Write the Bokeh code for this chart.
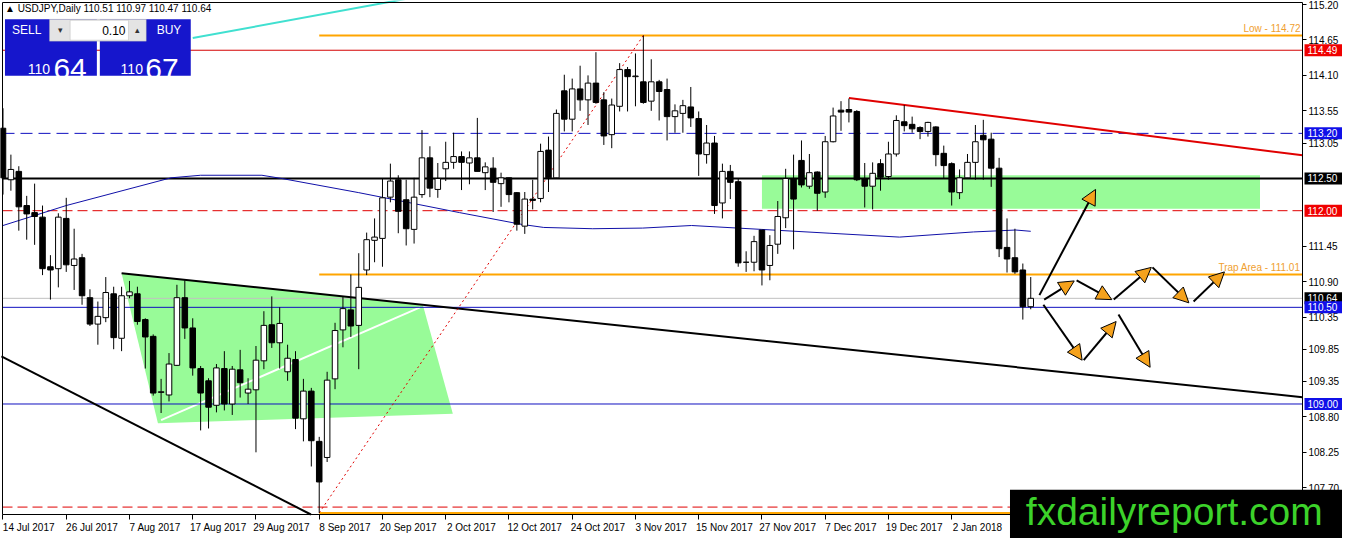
from bokeh.plotting import figure
from bokeh.models import (Range1d, FixedTicker, NumeralTickFormatter, Label, LinearAxis,
                          BoxAnnotation, Arrow, NormalHead, ColumnDataSource)
from bokeh.embed import file_html
from bokeh.resources import INLINE

# --- daily candles, bar 0 = 14 Jul 2017 ... bar 130 = 16 Jan 2018 ---
opens = [113.28, 112.48, 112.61, 112.08, 111.97, 111.90, 111.13, 111.10, 111.88, 111.15,
         111.27, 110.65, 110.24, 110.34, 110.71, 110.02, 110.68, 110.71, 110.31, 110.05,
         109.18, 109.14, 109.60, 110.65, 110.18, 109.55, 109.36, 108.98, 109.55, 109.00,
         109.53, 109.17, 109.22, 109.67, 110.23, 109.95, 109.50, 109.69, 108.77, 109.20,
         108.42, 108.17, 109.39, 110.15, 110.46, 110.22, 111.08, 111.54, 111.57, 112.21,
         112.48, 112.17, 111.71, 112.25, 112.82, 112.33, 112.65, 112.75, 112.84, 112.74,
         112.82, 112.59, 112.66, 112.42, 112.51, 112.28, 111.76, 112.18, 112.19, 112.94,
         112.51, 113.86, 113.42, 113.89, 113.72, 113.98, 113.72, 113.18, 113.62, 114.19,
         114.08, 114.00, 113.70, 114.00, 113.88, 113.46, 113.51, 113.61, 113.43, 112.87,
         113.05, 112.12, 112.61, 112.45, 111.20, 111.20, 111.70, 111.15, 111.48, 111.89,
         112.50, 112.78, 112.38, 112.60, 112.29, 113.07, 113.56, 113.57, 113.54, 112.50,
         112.38, 112.73, 112.53, 112.88, 113.38, 113.34, 113.29, 113.23, 113.30, 112.89,
         112.73, 112.28, 112.51, 112.75, 113.17, 113.11, 112.66, 111.43, 111.27, 111.08,
         110.51]
highs = [113.59, 112.87, 112.69, 112.23, 112.42, 112.08, 111.31, 111.96, 112.20, 111.72,
         111.33, 110.78, 110.59, 110.97, 110.82, 110.82, 110.91, 110.82, 110.33, 110.08,
         109.39, 109.79, 110.85, 110.92, 110.33, 109.59, 109.40, 109.62, 109.82, 109.59,
         109.84, 109.40, 109.90, 110.44, 110.67, 110.50, 109.92, 109.82, 109.39, 109.25,
         108.49, 109.50, 110.26, 110.66, 111.01, 111.34, 111.66, 111.88, 112.50, 112.73,
         112.55, 112.48, 112.51, 113.25, 113.00, 112.74, 113.07, 113.21, 112.92, 112.92,
         113.44, 112.75, 112.83, 112.59, 112.51, 112.29, 112.29, 112.48, 113.04, 113.15,
         113.57, 114.11, 114.05, 114.25, 114.10, 114.46, 113.84, 113.74, 114.29, 114.23,
         114.44, 114.72, 114.35, 114.03, 114.05, 113.65, 113.72, 113.92, 113.54, 113.33,
         113.16, 112.73, 112.71, 112.50, 111.37, 111.61, 111.70, 111.62, 112.15, 112.65,
         112.87, 113.09, 112.88, 112.61, 113.16, 113.60, 113.70, 113.74, 113.56, 112.74,
         112.75, 112.80, 113.07, 113.48, 113.64, 113.46, 113.31, 113.38, 113.31, 113.01,
         112.75, 112.64, 112.88, 113.33, 113.41, 113.21, 112.82, 111.88, 111.72, 111.18,
         110.97]
lows = [112.25, 112.31, 111.69, 111.55, 111.47, 111.00, 110.62, 110.81, 111.05, 110.77,
        110.54, 110.21, 109.92, 110.27, 109.85, 109.82, 110.64, 110.23, 109.55, 109.13,
        108.86, 109.04, 109.59, 110.01, 109.44, 108.59, 108.62, 108.87, 108.90, 108.83,
        109.10, 109.00, 108.25, 109.54, 109.87, 109.55, 109.36, 108.61, 108.42, 108.03,
        107.31, 108.10, 109.23, 109.88, 110.04, 109.54, 111.00, 111.20, 111.13, 112.13,
        111.65, 111.46, 111.49, 112.20, 112.21, 112.20, 112.46, 112.65, 112.32, 112.41,
        112.61, 112.32, 111.98, 112.06, 112.13, 111.69, 111.64, 112.02, 112.13, 112.29,
        112.51, 113.23, 113.23, 113.55, 113.33, 113.66, 113.02, 112.97, 113.54, 113.54,
        113.62, 113.66, 113.55, 113.40, 113.09, 113.21, 113.21, 113.30, 112.54, 112.73,
        111.95, 111.88, 112.18, 111.13, 111.05, 111.06, 110.84, 110.92, 111.33, 111.73,
        111.40, 112.36, 112.34, 112.00, 112.20, 113.06, 113.24, 113.37, 112.46, 112.05,
        112.02, 112.31, 112.48, 112.84, 113.23, 113.21, 113.11, 113.15, 112.69, 112.50,
        112.08, 112.18, 112.50, 112.48, 112.48, 112.37, 111.28, 111.04, 111.02, 110.31,
        110.47]
closes = [112.51, 112.64, 112.06, 111.95, 111.91, 111.10, 111.08, 111.90, 111.16, 111.25,
          110.68, 110.24, 110.36, 110.73, 110.03, 110.68, 110.74, 110.28, 110.04, 109.17,
          109.19, 109.62, 110.65, 110.18, 109.56, 109.17, 108.95, 109.56, 109.00, 109.54,
          109.33, 109.23, 109.68, 110.22, 109.95, 110.25, 109.71, 108.78, 109.20, 108.43,
          107.79, 109.37, 110.14, 110.48, 110.21, 110.81, 111.55, 111.59, 112.20, 112.46,
          111.99, 111.72, 112.21, 112.82, 112.35, 112.50, 112.75, 112.84, 112.75, 112.82,
          112.61, 112.68, 112.44, 112.51, 112.25, 111.79, 112.18, 112.16, 112.92, 112.51,
          113.51, 113.42, 113.89, 113.72, 113.98, 113.68, 113.16, 113.64, 114.19, 114.08,
          114.09, 113.68, 114.00, 113.85, 113.46, 113.55, 113.63, 113.44, 112.88, 113.05,
          112.08, 112.61, 112.44, 111.19, 111.20, 111.52, 111.08, 111.46, 111.91, 112.50,
          112.18, 112.40, 112.59, 112.27, 113.07, 113.47, 113.53, 113.53, 112.48, 112.38,
          112.58, 112.52, 112.88, 113.40, 113.32, 113.27, 113.23, 113.37, 112.87, 112.70,
          112.29, 112.51, 112.75, 113.07, 113.10, 112.66, 111.41, 111.25, 111.05, 110.51,
          110.64]

date_ticks = ["14 Jul 2017", "26 Jul 2017", "7 Aug 2017", "17 Aug 2017", "29 Aug 2017",
              "8 Sep 2017", "20 Sep 2017", "2 Oct 2017", "12 Oct 2017", "24 Oct 2017",
              "3 Nov 2017", "15 Nov 2017", "27 Nov 2017", "7 Dec 2017", "19 Dec 2017",
              "2 Jan 2018"]
date_tick_bars = list(range(0, 121, 8))
price_ticks = [115.20, 114.65, 114.10, 113.55, 113.05, 111.45, 110.90, 110.35,
               109.85, 109.35, 108.80, 108.25, 107.70]

# moving average (bar, price)
ma_bars = [0, 8, 21.25, 25, 32.75, 35.25, 45, 57.75, 65.5, 68.4, 74.6, 80.9, 87.1,
           95.9, 104.6, 113.4, 122.75, 128.1, 130]
ma_vals = [111.77, 112.08, 112.51, 112.55, 112.55, 112.50, 112.28, 111.97, 111.79, 111.74,
           111.72, 111.73, 111.77, 111.71, 111.65, 111.59, 111.67, 111.70, 111.68]

# horizontal levels
level_prices = [114.49, 113.20, 112.50, 112.00, 110.64, 110.50, 109.00, 107.40]
level_colors = ["#d40000", "#1010c0", "black", "#e00000", "#c0c0c0", "#1010c0", "#1010c0", "#e00000"]
level_dash = ["solid", "12 6", "solid", "10 5", "solid", "solid", "solid", "10 5"]
level_width = [1, 1, 2, 1, 1, 1, 1, 1]

tag_prices = [114.49, 113.20, 112.50, 112.00, 110.64, 110.50, 109.00]
tag_colors = ["#f00000", "#1010e8", "black", "#f00000", "black", "#1010e8", "#1010e8"]

# orange levels from the 8 Sep low
orange_prices = [114.72, 111.01, 107.31]
orange_texts = ["Low - 114.72", "Trap Area - 111.01", ""]

# drawn objects (bar, price)
cyan_line = ([24.0, 52.0], [114.68, 115.31])
black_trend = ([15.0, 164.375], [111.03, 109.105])
black_lower = ([-0.2, 38.95], [109.74, 107.285])
red_trend = ([107.0, 164.375], [113.75, 112.86])
red_dotted = ([40.0, 81.0], [107.31, 114.72])
white_line = ([20.0, 52.75], [108.75, 110.50])
tri_x = [15.0, 53.1, 56.9, 19.6]
tri_y = [111.03, 110.54, 108.85, 108.70]
zone = (96.0, 159.0, 112.03, 112.55)

arrow_x0 = [131.1, 131.7, 135.8, 140.5, 145.4, 150.6, 131.6, 136.7, 141.1]
arrow_y0 = [110.69, 110.62, 110.92, 110.62, 111.12, 110.59, 110.54, 109.68, 110.39]
arrow_x1 = [138.2, 135.5, 140.25, 145.25, 150.0, 154.5, 136.5, 140.8, 145.1]
arrow_y1 = [112.33, 110.91, 110.62, 111.12, 110.57, 111.05, 109.68, 110.28, 109.57]

W, H = 1342, 538
# chart box on the canvas (px) and its value extents
CL, CR, CT, CB = 2, 1302, 2, 514
XL, XC = -0.0625, 164.375        # bars at chart left / right edge
YB, YT = 107.285, 115.231        # prices at chart bottom / top
K = (CR - CL) / (XC - XL)        # px per bar
M = (CB - CT) / (YT - YB)        # px per price unit
X0, X1 = XL - CL / K, XC + (W - CR) / K
Y0, Y1 = YB - (H - CB) / M, YT + CT / M
FONT = "Liberation Sans"


def bx(px):
    # reference pixel column -> bar units
    return (px - 3) / 8.0


def py(y):
    # reference pixel row -> price
    return 115.2 - (y - 5) / 65.07


p = figure(width=W, height=H, x_range=Range1d(X0, X1), y_range=Range1d(Y0, Y1),
           output_backend="svg", toolbar_location=None,
           x_axis_location=None, y_axis_location=None,
           min_border_left=0, min_border_top=0, min_border_right=0, min_border_bottom=0)
p.xgrid.visible = False
p.ygrid.visible = False
p.outline_line_color = None
p.background_fill_color = "white"

# zones
p.patch(tri_x, tri_y, fill_color="#98fb98", line_color=None, level="underlay")
p.quad(left=[zone[0]], right=[zone[1]], bottom=[zone[2]], top=[zone[3]],
       fill_color="#98fb98", line_color=None, level="underlay")
p.line(*white_line, line_color="white", line_width=2, level="underlay")

for lp, lc, ld, lw in zip(level_prices, level_colors, level_dash, level_width):
    p.segment(x0=[XL], y0=[lp], x1=[XC], y1=[lp], line_color=lc, line_dash=ld,
              line_width=lw, level="underlay")

for op in orange_prices:
    p.segment(x0=[40], y0=[op], x1=[XC], y1=[op], line_color="#ffa500", line_width=2)

p.line(*cyan_line, line_color="#40e0d0", line_width=2)
p.line(*black_trend, line_color="black", line_width=2)
p.line(*black_lower, line_color="black", line_width=2)
p.line(*red_trend, line_color="#e00000", line_width=2)
p.line(*red_dotted, line_color="#e00000", line_width=1, line_dash="2 3")
p.line(ma_bars, ma_vals, line_color="#1010a8", line_width=1)

# chart border (top and left; right and bottom are the axes)
p.segment(x0=[XL, XL], y0=[YT, YB], x1=[XC, XL], y1=[YT, YT], line_color="black", line_width=1)

# candles
bars = list(range(len(opens)))
up = [c >= o for o, c in zip(opens, closes)]
src = ColumnDataSource(dict(
    x=bars, high=highs, low=lows,
    top=[max(o, c) for o, c in zip(opens, closes)],
    bottom=[min(o, c) for o, c in zip(opens, closes)],
    fill=["white" if u else "black" for u in up]))
p.segment(x0="x", y0="low", x1="x", y1="high", source=src, line_color="black", line_width=1)
p.vbar(x="x", top="top", bottom="bottom", width=0.7, source=src,
       fill_color="fill", line_color="black", line_width=1)

# arrows
asrc = ColumnDataSource(dict(x0=arrow_x0, y0=arrow_y0, x1=arrow_x1, y1=arrow_y1))
p.add_layout(Arrow(x_start="x0", y_start="y0", x_end="x1", y_end="y1", source=asrc,
                   line_color="black", line_width=2,
                   end=NormalHead(size=15, fill_color="#f5a21c", line_color="black", line_width=1)))

for op, ot in zip(orange_prices, orange_texts):
    if ot:
        p.add_layout(Label(x=XC, y=op, x_offset=-2, y_offset=1, text=ot, text_align="right",
                           text_baseline="bottom", text_color="#f0a030",
                           text_font=FONT, text_font_size="10px"))

# axes, pinned to the chart box edges
xaxis = LinearAxis(fixed_location=YB, bounds=(XL, XC),
                   ticker=FixedTicker(ticks=[b + 3.25 for b in date_tick_bars], minor_ticks=date_tick_bars),
                   major_label_overrides={b + 3.25: d for b, d in zip(date_tick_bars, date_ticks)},
                   major_tick_line_color=None, major_tick_out=4, major_tick_in=0,
                   minor_tick_out=5, minor_tick_in=0, minor_tick_line_color="black",
                   major_label_standoff=2)
yaxis = LinearAxis(fixed_location=XC, bounds=(YB, YT),
                   ticker=FixedTicker(ticks=price_ticks), formatter=NumeralTickFormatter(format="0.00"),
                   major_tick_out=4, major_tick_in=0, minor_tick_line_color=None,
                   major_label_standoff=2)
for ax in (xaxis, yaxis):
    ax.major_label_text_font = FONT
    ax.major_label_text_font_size = "10px"
    ax.major_label_text_color = "black"
    ax.axis_line_color = "black"
p.add_layout(xaxis, "below")
p.add_layout(yaxis, "right")

# price tags on the scale
for tp, tc in zip(tag_prices, tag_colors):
    p.add_layout(BoxAnnotation(left=XC + 2 / K, right=XC + 40 / K, top=tp + 6 / M, bottom=tp - 6 / M,
                               fill_color=tc, fill_alpha=1, line_color=None))
    p.add_layout(Label(x=XC, y=tp, x_offset=5, text="%.2f" % tp, text_align="left",
                       text_baseline="middle", text_color="white", text_font=FONT,
                       text_font_size="10px"))

# trade panel
p.add_layout(Label(x=bx(5), y=py(9), text="\u25b2 USDJPY,Daily  110.51 110.97 110.47 110.64",
                   text_baseline="middle", text_font=FONT, text_font_size="10px", text_color="black"))
for l, r, t, b, c in [(5, 98, 20, 77, "#1616cc"), (101, 193, 20, 77, "#1616cc"),
                      (50, 148, 20, 42, "#e4e4e4"), (71, 130, 21, 41, "white")]:
    p.add_layout(BoxAnnotation(left=bx(l), right=bx(r), top=py(t), bottom=py(b),
                               fill_color=c, fill_alpha=1, line_color="#9a9a9a" if c != "#1616cc" else None))
for txt, x, y, size, col, align in [("SELL", 27, 31, "12px", "white", "center"),
                                    ("BUY", 171, 31, "12px", "white", "center"),
                                    ("0.10", 127, 31, "12px", "black", "right"),
                                    ("\u25be", 61, 31, "9px", "#333333", "center"),
                                    ("\u25b4", 139, 31, "9px", "#333333", "center")]:
    p.add_layout(Label(x=bx(x), y=py(y), text=txt, text_align=align, text_baseline="middle",
                       text_font=FONT, text_font_size=size, text_color=col))
for txt, x, size in [("110", 28, "14px"), ("64", 54, "30px"), ("110", 122, "14px"), ("67", 147, "30px")]:
    p.add_layout(Label(x=bx(x), y=py(70), text=txt, text_baseline="alphabetic",
                       text_font=FONT, text_font_size=size, text_color="white"))

# watermark
p.add_layout(BoxAnnotation(left=bx(1022), right=X1 + 1, top=py(495), bottom=Y0 - 1,
                           fill_color="black", fill_alpha=1, line_color=None))
p.add_layout(Label(x=bx(1038), y=py(517), text="fxdailyreport.com", text_baseline="middle",
                   text_font=FONT, text_font_size="39px", text_color="#3cd22a"))

open("out.html", "w").write(file_html(p, INLINE))
